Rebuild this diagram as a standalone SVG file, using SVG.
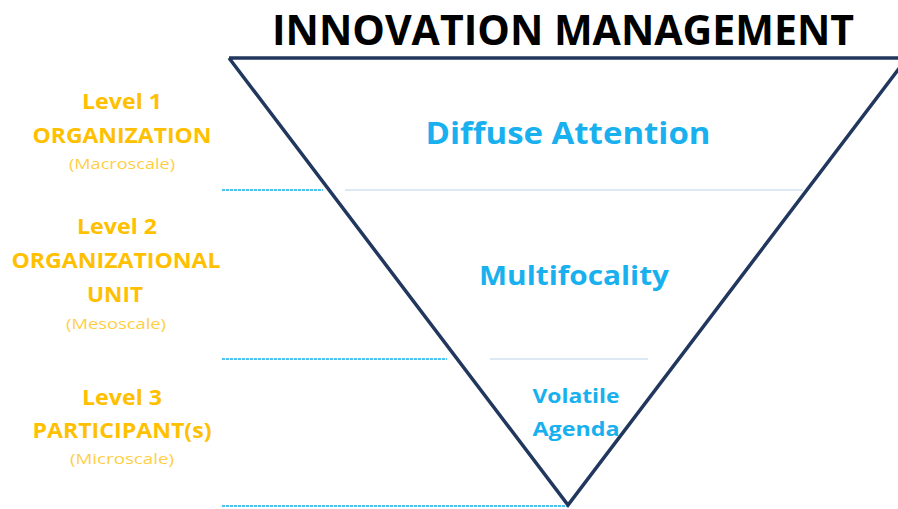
<svg xmlns="http://www.w3.org/2000/svg" width="898" height="509" viewBox="0 0 898 509">
<style>
.lvl{font-family:"Open Sans","Noto Sans",sans-serif;font-weight:bold;fill:#FFC000;text-anchor:middle}
.sc{font-family:"Open Sans","Noto Sans",sans-serif;fill:#FFC000;text-anchor:middle;font-size:14px;opacity:0.75}
.in{font-family:"Open Sans","Noto Sans",sans-serif;font-weight:bold;fill:#18B0EE;text-anchor:middle}
.dot{stroke:#4CC3F0;stroke-width:2;stroke-dasharray:3 1;fill:none}
.sep{stroke:#DCE9F5;stroke-width:2;fill:none}
</style>
<rect width="898" height="509" fill="#FFFFFF"/>
<g id="title">
<text x="563" y="45" font-family="'Open Sans','Noto Sans',sans-serif" font-weight="bold" font-size="42" fill="#000000" text-anchor="middle" textLength="582" lengthAdjust="spacingAndGlyphs">INNOVATION MANAGEMENT</text>
</g>
<g id="connectors">
<line class="dot" x1="222" y1="190" x2="323" y2="190"/>
<line class="sep" x1="345" y1="190" x2="803" y2="190"/>
<line class="dot" x1="222" y1="359" x2="447" y2="359"/>
<line class="sep" x1="490" y1="359" x2="648" y2="359"/>
<line class="dot" x1="222" y1="506" x2="568" y2="506"/>
</g>
<g id="triangle">
<polyline points="229,58 568,505 907,58 229,58" fill="none" stroke="#22375E" stroke-width="3.5" stroke-linejoin="miter"/>
</g>
<g id="level1">
<text class="lvl" x="122" y="109" font-size="21" textLength="80" lengthAdjust="spacingAndGlyphs">Level 1</text>
<text class="lvl" x="122" y="143" font-size="21" textLength="179" lengthAdjust="spacingAndGlyphs">ORGANIZATION</text>
<text class="sc" x="122" y="169" textLength="106" lengthAdjust="spacingAndGlyphs">(Macroscale)</text>
</g>
<g id="level2">
<text class="lvl" x="117" y="234" font-size="21" textLength="80" lengthAdjust="spacingAndGlyphs">Level 2</text>
<text class="lvl" x="116" y="268" font-size="21" textLength="209" lengthAdjust="spacingAndGlyphs">ORGANIZATIONAL</text>
<text class="lvl" x="115" y="302" font-size="21" textLength="56" lengthAdjust="spacingAndGlyphs">UNIT</text>
<text class="sc" x="116" y="329" textLength="100" lengthAdjust="spacingAndGlyphs">(Mesoscale)</text>
</g>
<g id="level3">
<text class="lvl" x="122" y="405" font-size="21" textLength="80" lengthAdjust="spacingAndGlyphs">Level 3</text>
<text class="lvl" x="122" y="438" font-size="21" textLength="179" lengthAdjust="spacingAndGlyphs">PARTICIPANT(s)</text>
<text class="sc" x="122" y="464" textLength="104" lengthAdjust="spacingAndGlyphs">(Microscale)</text>
</g>
<g id="diffuse">
<text class="in" x="568" y="144" font-size="30" textLength="285" lengthAdjust="spacingAndGlyphs">Diffuse Attention</text>
</g>
<g id="multifocality">
<text class="in" x="574" y="285" font-size="27" textLength="190" lengthAdjust="spacingAndGlyphs">Multifocality</text>
</g>
<g id="volatile">
<text class="in" x="576" y="403" font-size="20" textLength="87" lengthAdjust="spacingAndGlyphs">Volatile</text>
<text class="in" x="576" y="436" font-size="20" textLength="87" lengthAdjust="spacingAndGlyphs">Agenda</text>
</g>
</svg>
